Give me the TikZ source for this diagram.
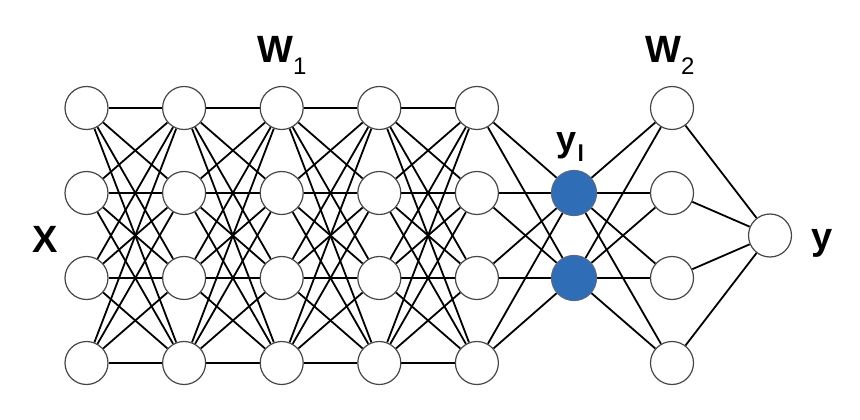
\documentclass[tikz,border=0pt]{standalone}
\usepackage{fontspec}
\setmainfont{Liberation Sans}
\usetikzlibrary{backgrounds}
\definecolor{unitgray}{RGB}{70,70,70}
\definecolor{blueunit}{RGB}{47,109,182}
\definecolor{bluegray}{RGB}{85,105,135}
\tikzset{
  unit/.style={circle, draw=unitgray, line width=1.2pt, fill=white, minimum size=43pt, inner sep=0pt},
  hidden/.style={circle, draw=bluegray, line width=1.2pt, fill=blueunit, minimum size=45pt, inner sep=0pt},
  link/.style={line width=1.8pt, draw=black},
  lbl/.style={font=\fontsize{38}{40}\selectfont\bfseries, inner sep=0pt},
}
\begin{document}
\begin{tikzpicture}[x=1pt,y=-1pt]
\useasboundingbox (0,0) rectangle (860,420);
% layers 0..4 of 4 units
\foreach \c in {0,...,4}{
  \foreach \r in {1,...,4}{
    \node[unit] (n\c\r) at ({86.5+97.6*\c},{108+85*(\r-1)}) {};
  }
}
% bottleneck units
\node[hidden] (h1) at (574,193) {};
\node[hidden] (h2) at (574,278) {};
% layer after bottleneck
\foreach \r in {1,...,4}{
  \node[unit] (m\r) at (672,{108+85*(\r-1)}) {};
}
% output
\node[unit] (o) at (770,235.5) {};
% connections
\begin{scope}[on background layer]
  \foreach \c [evaluate=\c as \d using int(\c+1)] in {0,...,3}{
    \foreach \a in {1,...,4}{
      \foreach \b in {1,...,4}{
        \draw[link] (n\c\a) -- (n\d\b);
      }
    }
  }
  \foreach \a in {1,...,4}{
    \foreach \h in {1,2}{
      \draw[link] (n4\a) -- (h\h);
      \draw[link] (h\h) -- (m\a);
    }
    \draw[link] (m\a) -- (o);
  }
\end{scope}
% labels
\node[lbl, anchor=base] (lx) at (45,252) {X};
\node[lbl, anchor=base] (ly) at (822.5,249) {y};
\node[lbl, anchor=base west] (lw1) at (257,63) {W\raisebox{-12pt}{\fontsize{24}{24}\selectfont\mdseries 1}};
\node[lbl, anchor=base west] (lw2) at (645,63) {W\raisebox{-12pt}{\fontsize{24}{24}\selectfont\mdseries 2}};
\node[lbl, anchor=base west, font=\fontsize{36}{38}\selectfont\bfseries] (lyl) at (556,151) {y\hspace{1.5pt}\raisebox{-10pt}{\fontsize{23}{23}\selectfont l}};
\end{tikzpicture}
\end{document}
